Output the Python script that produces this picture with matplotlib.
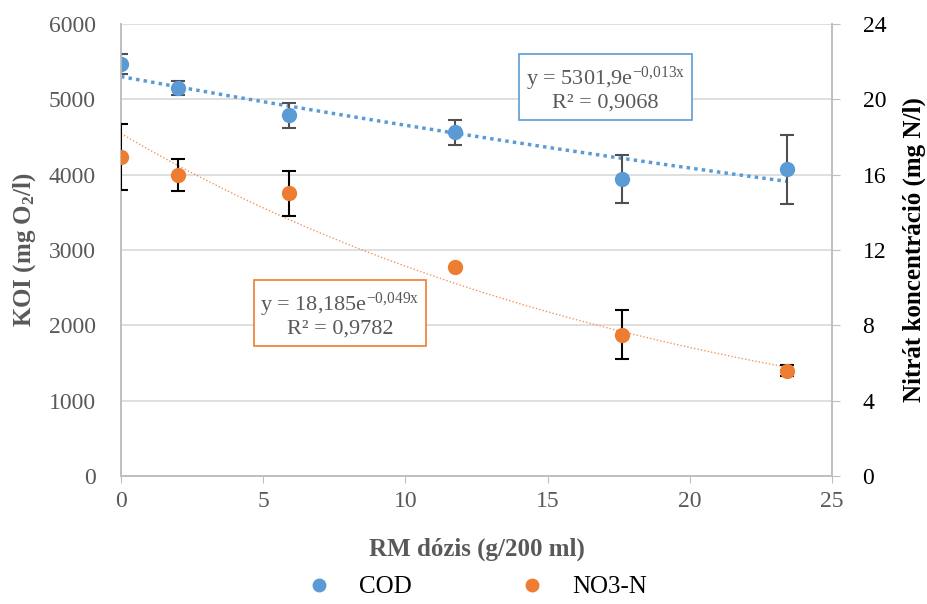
import numpy as np
import matplotlib.pyplot as plt

# --- data ---
dose = [0, 2, 5.9, 11.75, 17.6, 23.4]          # RM dózis (g/200 ml)
cod = [5470, 5150, 4790, 4560, 3940, 4070]      # KOI (mg O2/l)
cod_err = [130, 90, 165, 170, 315, 460]
no3 = [16.95, 16.0, 15.0, 11.1, 7.5, 5.6]       # Nitrát (mg N/l)
no3_err = [1.75, 0.85, 1.2, 0.0, 1.3, 0.3]

# exponential trend lines (as printed on the chart)
cod_a, cod_b = 5301.9, -0.013
no3_a, no3_b = 18.185, -0.049

blue = "#5b9bd5"
orange = "#ed7d31"
gray = "#595959"

plt.rcParams["font.family"] = ["Liberation Serif", "DejaVu Serif"]
plt.rcParams["mathtext.fontset"] = "custom"
plt.rcParams["mathtext.rm"] = "Liberation Serif"
plt.rcParams["mathtext.it"] = "Liberation Serif:italic"
plt.rcParams["mathtext.bf"] = "Liberation Serif:bold"

fig = plt.figure(figsize=(9.28, 6.04), dpi=100)
ax = fig.add_axes([0.1304, 0.2119, 0.7662, 0.7484])
ax2 = ax.twinx()

# trend lines
xt = np.linspace(0, dose[-1], 200)
ax.plot(xt, cod_a * np.exp(cod_b * xt), color=blue, lw=2.5, ls=(0, (1, 1.2)), zorder=2)
ax2.plot(xt, no3_a * np.exp(no3_b * xt), color=orange, lw=1, ls=(0, (1, 1.5)), alpha=0.8, zorder=2)

# points with error bars
ax.errorbar(dose, cod, yerr=cod_err, fmt="o", color=blue, ms=10, ecolor="#505050",
            elinewidth=1.5, capsize=5, capthick=1.5, zorder=3, label="COD")
ax2.errorbar(dose, no3, yerr=no3_err, fmt="o", color=orange, ms=10, ecolor="black",
             elinewidth=1.5, capsize=5, capthick=1.5, zorder=3, label="NO3-N")

ax.set_xlim(0, 25)
ax.set_ylim(0, 6000)
ax2.set_ylim(0, 24)
ax.set_xticks(range(0, 26, 5))
ax.set_yticks(range(0, 6001, 1000))
ax2.set_yticks(range(0, 25, 4))

ax.grid(axis="y", color="#d9d9d9", lw=1.2)
ax.set_axisbelow(True)
for a in (ax, ax2):
    a.spines["top"].set_visible(False)
    for s in ("left", "right", "bottom"):
        a.spines[s].set_color("#bfbfbf")
        a.spines[s].set_linewidth(1.2)

ax.tick_params(axis="y", length=0, labelsize=17, labelcolor=gray, pad=18)
ax.tick_params(axis="x", length=5, color="#bfbfbf", labelsize=17, labelcolor=gray, pad=6)
ax2.tick_params(axis="y", length=6, color="#bfbfbf", labelsize=17, labelcolor="black", pad=16)

ax.set_xlabel("RM dózis (g/200 ml)", fontsize=18, fontweight="bold", color=gray, labelpad=18)
ax.set_ylabel(r"KOI (mg O$_\mathbf{2}$/l)", fontsize=18, fontweight="bold", color=gray, labelpad=8)
ax2.set_ylabel("Nitrát koncentráció (mg N/l)", fontsize=18, fontweight="bold", color="black", labelpad=12)

# trend equations
ax.text(0.681, 0.857, "y = 5301,9e$^{\\mathrm{-0{,}013x}}$\nR² = 0,9068",
        transform=ax.transAxes, ha="center", va="center", fontsize=16, color=gray,
        linespacing=1.1,
        bbox=dict(boxstyle="square,pad=0.3", fc="white", ec=blue, lw=1.2))
ax.text(0.308, 0.357, "y = 18,185e$^{\\mathrm{-0{,}049x}}$\nR² = 0,9782",
        transform=ax.transAxes, ha="center", va="center", fontsize=16, color=gray,
        linespacing=1.1,
        bbox=dict(boxstyle="square,pad=0.3", fc="white", ec=orange, lw=1.2))

# legend below the plot
_, l1 = ax.get_legend_handles_labels()
_, l2 = ax2.get_legend_handles_labels()
handles = [plt.Line2D([], [], marker="o", ls="", color=blue, ms=9),
           plt.Line2D([], [], marker="o", ls="", color=orange, ms=9)]
fig.legend(handles, l1 + l2, loc="center", bbox_to_anchor=(0.507, 0.028), ncol=2,
           frameon=False, fontsize=18, columnspacing=3.8, handletextpad=0.6)

fig.savefig("out.png", dpi=100)
